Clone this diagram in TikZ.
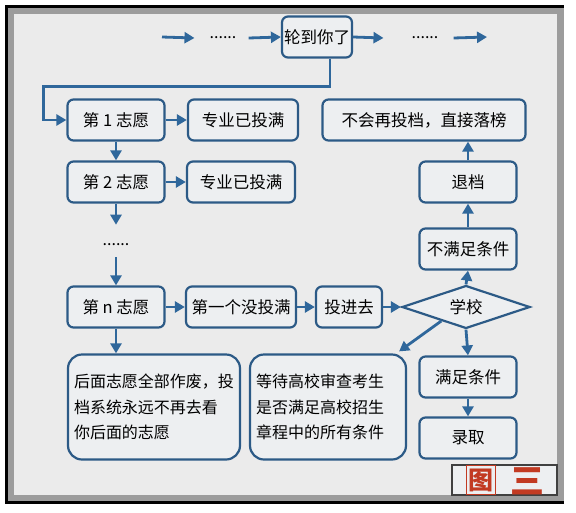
\documentclass[tikz,border=0pt]{standalone}
\usepackage{fontspec}
\newfontfamily\cjk{Noto Sans CJK SC}
\usetikzlibrary{arrows.meta,shapes.geometric,calc}
\definecolor{bg}{HTML}{EBEBEB}
\definecolor{framegray}{HTML}{9C9C9C}
\definecolor{boxblue}{HTML}{2C5A86}
\definecolor{arrblue}{HTML}{2F679B}
\definecolor{boxfill}{HTML}{EDEFF1}
\definecolor{lblred}{HTML}{C23A22}
\tikzset{
  fbox/.style={draw=boxblue, line width=2.2pt, rounded corners=6pt, fill=boxfill,
    minimum height=41pt, inner sep=2pt, font=\cjk\fontsize{16.5}{20}\selectfont},
  bigbox/.style={draw=boxblue, line width=2.2pt, rounded corners=14pt, fill=boxfill,
    minimum height=105pt, inner sep=4pt, align=left, font=\cjk\fontsize{16}{25.5}\selectfont},
  arr/.style={draw=arrblue, line width=2.8pt, -{Triangle[length=10pt,width=11pt]}},
  dotsnode/.style={font=\cjk\fontsize{16}{20}\selectfont, inner sep=0pt},
}
\begin{document}
\begin{tikzpicture}[x=1pt,y=-1pt]
\useasboundingbox (0,0) rectangle (576,512);
% frame
\fill[black] (5,5) rectangle (564,504);
\fill[framegray] (8,8) rectangle (564,501);
\fill[bg] (14,14) rectangle (557,495);

% top row
\node[fbox, minimum width=70pt] (lun) at (317,37) {轮到你了};
\node[dotsnode] (d1) at (223,38) {......};
\node[dotsnode] (d2) at (425,38) {......};
\coordinate (a1s) at (162,37);
\coordinate (a4e) at (487,37);
\draw[arr] (a1s) -- ([xshift=-15pt]d1.west);
\draw[arr] ([xshift=12pt]d1.east) -- (lun.west);
\draw[arr] (lun.east) -- ([xshift=-28pt]d2.west);
\draw[arr] ([xshift=15pt]d2.east) -- (a4e);

% left column
\node[fbox, minimum width=97pt] (v1) at (116,120) {第 1 志愿};
\node[fbox, minimum width=110pt] (f1) at (243,120) {专业已投满};
\node[fbox, minimum width=97pt] (v2) at (116,182) {第 2 志愿};
\node[fbox, minimum width=108pt] (f2) at (241,182) {专业已投满};
\node[dotsnode] (dv) at (116,245) {......};
\node[fbox, minimum width=97pt] (vn) at (116,307) {第 n 志愿};
\node[fbox, minimum width=110pt] (nf) at (241,307) {第一个没投满};
\node[fbox, minimum width=66pt] (tj) at (349,307) {投进去};

\draw[arr] ([xshift=13pt]lun.south) -- ++(0,28) -| ([xshift=-23pt]v1.west) -- (v1.west);
\draw[arr] (v1.east) -- (f1.west);
\draw[arr] (v2.east) -- (f2.west);
\draw[arr] (v1.south) -- (v2.north);
\draw[arr] (v2.south) -- ([yshift=19pt]dv.north);
\draw[arr] ([yshift=-11pt]dv.south) -- (vn.north);
\draw[arr] (vn.east) -- (nf.west);
\draw[arr] (nf.east) -- (tj.west);

% school
\node[diamond, draw=boxblue, line width=2.2pt, fill=boxfill, aspect=3, inner sep=0pt,
  minimum width=128pt, minimum height=43pt, font=\cjk\fontsize{16.5}{20}\selectfont] (sch) at (466,307) {学校};
\draw[arr] (tj.east) -- (sch.west);

% right column
\node[fbox, minimum width=203pt] (lb) at (424,120) {不会再投档，直接落榜};
\node[fbox, minimum width=97pt] (td) at (468,182) {退档};
\node[fbox, minimum width=97pt] (bm) at (468,249) {不满足条件};
\node[fbox, minimum width=97pt] (mz) at (468,377) {满足条件};
\node[fbox, minimum width=97pt] (lq) at (468,438) {录取};
\draw[arr] (sch.north) -- (bm.south);
\draw[arr] (bm.north) -- (td.south);
\draw[arr] (td.north) -- (lb.south -| td.north);
\draw[arr] (sch.south) -- (mz.north);
\draw[arr] (mz.south) -- (lq.north);

% big boxes
\node[bigbox, minimum width=172pt, text width=160pt] (hm) at (154,407)
  {后面志愿全部作废，投\\档系统永远不再去看\\你后面的志愿};
\node[bigbox, minimum width=156pt, text width=144pt] (dd) at (328,407)
  {等待高校审查考生\\是否满足高校招生\\章程中的所有条件};
\draw[arr] (vn.south) -- (hm.north -| vn.south);
\coordinate (sc) at ($(sch.west)!0.62!(sch.south)$);
\draw[arr] (sc) -- ([xshift=-8pt,yshift=2pt]dd.north east);

% label
\node[draw=black!75, line width=1.3pt, fill=boxfill, minimum width=105pt, minimum height=30pt, inner sep=0pt] (lbl) at (504.5,480) {};
\node[draw=lblred, line width=1.8pt, text=lblred, font=\cjk\bfseries\fontsize{25}{26}\selectfont, inner sep=0pt, minimum width=29pt, minimum height=29pt] (tu) at (481,480) {图};
\node[text=lblred, font=\cjk\bfseries\fontsize{34}{36}\selectfont, inner sep=0pt] (san) at (527,481) {三};
\end{tikzpicture}
\end{document}
